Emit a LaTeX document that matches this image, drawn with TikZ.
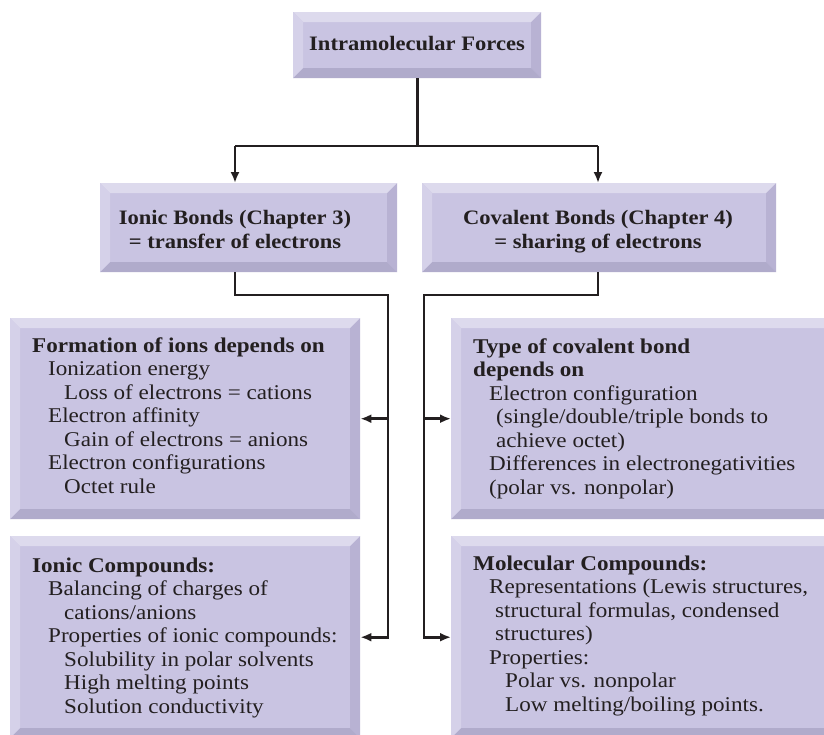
\documentclass[tikz,border=0pt]{standalone}
\usepackage{fontspec}
\setmainfont{Liberation Serif}[FakeStretch=1.1]
\usetikzlibrary{arrows.meta,positioning}
\definecolor{boxface}{RGB}{201,196,226}
\definecolor{bevtop}{RGB}{221,218,237}
\definecolor{bevleft}{RGB}{213,209,233}
\definecolor{bevright}{RGB}{184,178,211}
\definecolor{bevbot}{RGB}{176,171,203}
\definecolor{inkcol}{RGB}{35,31,32}
\newcommand\boxfont{\fontsize{21}{23.5}\selectfont}
\newcommand\headfont{\fontsize{20.5}{24}\selectfont\bfseries}
\newcommand\bevw{10pt}
\newcommand\lvA{\hspace*{16pt}}
\newcommand\lvB{\hspace*{32pt}}
\tikzset{
  bevelbox/.style={
    fill=boxface,
    inner sep=0pt,
    anchor=north west,
    path picture={
      \coordinate (bnw) at (path picture bounding box.north west);
      \coordinate (bne) at (path picture bounding box.north east);
      \coordinate (bsw) at (path picture bounding box.south west);
      \coordinate (bse) at (path picture bounding box.south east);
      \fill[bevtop] (bnw) -- (bne) -- ([shift={(-\bevw,-\bevw)}]bne) -- ([shift={(\bevw,-\bevw)}]bnw) -- cycle;
      \fill[bevleft] (bnw) -- (bsw) -- ([shift={(\bevw,\bevw)}]bsw) -- ([shift={(\bevw,-\bevw)}]bnw) -- cycle;
      \fill[bevright] (bne) -- (bse) -- ([shift={(-\bevw,\bevw)}]bse) -- ([shift={(-\bevw,-\bevw)}]bne) -- cycle;
      \fill[bevbot] (bsw) -- (bse) -- ([shift={(-\bevw,\bevw)}]bse) -- ([shift={(\bevw,\bevw)}]bsw) -- cycle;
    }
  },
  head/.style={inner sep=0pt, anchor=base, align=center, font=\headfont, text=inkcol},
  % base anchor of a multi-line node sits on its last line
  boxtext/.style={inner sep=0pt, anchor=base west, align=left, font=\boxfont, text=inkcol},
  link/.style={draw=inkcol, line width=2.6pt},
  arrow/.style={link, -{Latex[length=11pt,width=9pt]}}
}

\begin{document}
\begin{tikzpicture}[x=1pt, y=-1pt]
  \useasboundingbox (0,0) rectangle (824,734);
  \clip (0,0) rectangle (824,734);

  % boxes
  \node[bevelbox, minimum width=248pt, minimum height=66pt] (top) at (293,12) {};
  \node[bevelbox, minimum width=297pt, minimum height=89pt] (ionic) at (100,183) {};
  \node[bevelbox, minimum width=354pt, minimum height=89pt] (coval) at (422,183) {};
  \node[bevelbox, minimum width=350pt, minimum height=201pt] (form) at (10,318) {};
  \node[bevelbox, minimum width=385pt, minimum height=201pt] (type) at (451,318) {};
  \node[bevelbox, minimum width=350pt, minimum height=202pt] (icomp) at (10,536) {};
  \node[bevelbox, minimum width=385pt, minimum height=202pt] (mcomp) at (451,536) {};

  % texts
  \node[head] (toptxt) at (417,50) {Intramolecular Forces};
  \node[head] (iontxt) at (235,248) {Ionic Bonds (Chapter 3)\\= transfer of electrons};
  \node[head] (covtxt) at (598,248) {Covalent Bonds (Chapter 4)\\= sharing of electrons};
  \node[boxtext] (formtxt) at (32,493) {\textbf{Formation of ions depends on}\\
    \lvA Ionization energy\\
    \lvB Loss of electrons = cations\\
    \lvA Electron affinity\\
    \lvB Gain of electrons = anions\\
    \lvA Electron configurations\\
    \lvB Octet rule};
  \node[boxtext] (typetxt) at (473,494) {\textbf{Type of covalent bond}\\
    \textbf{depends on}\\
    \lvA Electron configuration\\
    \hspace*{23pt}(single/double/triple bonds to\\
    \hspace*{23pt}achieve octet)\\
    \lvA Differences in electronegativities\\
    \lvA (polar vs. nonpolar)};
  \node[boxtext] (icomptxt) at (32,713) {\textbf{Ionic Compounds:}\\
    \lvA Balancing of charges of\\
    \lvB cations/anions\\
    \lvA Properties of ionic compounds:\\
    \lvB Solubility in polar solvents\\
    \lvB High melting points\\
    \lvB Solution conductivity};
  \node[boxtext] (mcomptxt) at (473,711) {\textbf{Molecular Compounds:}\\
    \lvA Representations (Lewis structures,\\
    \hspace*{22pt}structural formulas, condensed\\
    \hspace*{22pt}structures)\\
    \lvA Properties:\\
    \lvB Polar vs. nonpolar\\
    \lvB Low melting/boiling points.};

  % junctions
  \coordinate (jl) at (235,146);
  \coordinate (jr) at (598,146);
  \coordinate (il) at (388,295);
  \coordinate (ir) at (424,295);

  % connectors
  \draw[link] (top.south) -- (top.south |- jl);
  \draw[arrow] (jl) -- (jl |- ionic.north);
  \draw[arrow] (jr) -- (jr |- coval.north);
  \draw[link] (jl) -- (jr);
  \draw[arrow] (jl |- ionic.south) -- (jl |- il) -- (il) |- (icomp.east);
  \draw[arrow] (il |- form.east) -- (form.east);
  \draw[arrow] (jr |- coval.south) -- (jr |- ir) -- (ir) |- (mcomp.west);
  \draw[arrow] (ir |- type.west) -- (type.west);
\end{tikzpicture}
\end{document}
